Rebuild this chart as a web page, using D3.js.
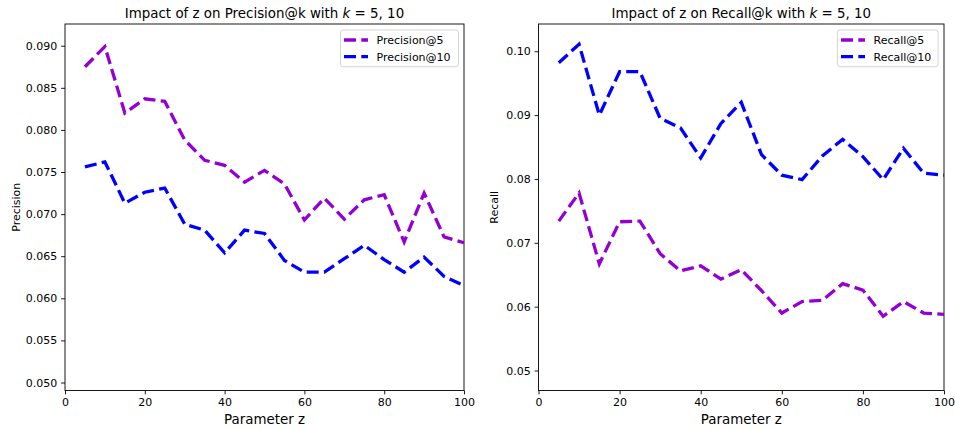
<!DOCTYPE html>
<html>
<head>
<meta charset="utf-8">
<title>Impact of z</title>
<script src="https://d3js.org/d3.v7.min.js"></script>
<style>
  body { margin: 0; background: #fff; }
  text { font-family: "DejaVu Sans", sans-serif; fill: #000; }
  .tick text { font-size: 11px; fill: #000; }
  .domain, .tick line { stroke: #000; stroke-width: 0.9px; }
</style>
</head>
<body>
<div id="chart"></div>
<script>
// parameter z
const zValues = [5, 10, 15, 20, 25, 30, 35, 40, 45, 50, 55, 60, 65, 70, 75, 80, 85, 90, 95, 100];

const precision5 = [0.0875, 0.0899, 0.0820, 0.0837, 0.0834, 0.0788, 0.0764, 0.0758, 0.0738, 0.0752,
                    0.0736, 0.0693, 0.0719, 0.0694, 0.0717, 0.0723, 0.0667, 0.0725, 0.0673, 0.0666];
const precision10 = [0.0756, 0.0762, 0.0713, 0.0726, 0.0731, 0.0688, 0.0681, 0.0654, 0.0681, 0.0677,
                     0.0645, 0.0631, 0.0631, 0.0647, 0.0663, 0.0646, 0.0631, 0.0649, 0.0626, 0.0615];
const recall5 = [0.0734, 0.0778, 0.0667, 0.0733, 0.0734, 0.0683, 0.0656, 0.0664, 0.0643, 0.0658,
                 0.0625, 0.0590, 0.0608, 0.0610, 0.0636, 0.0626, 0.0585, 0.0608, 0.0590, 0.0588];
const recall10 = [0.0982, 0.1011, 0.0900, 0.0968, 0.0968, 0.0895, 0.0880, 0.0833, 0.0887, 0.0920,
                  0.0838, 0.0806, 0.0799, 0.0836, 0.0862, 0.0835, 0.0799, 0.0848, 0.0809, 0.0806];

const xTicks = [0, 20, 40, 60, 80, 100];
const precisionTicks = [0.050, 0.055, 0.060, 0.065, 0.070, 0.075, 0.080, 0.085, 0.090];
const recallTicks = [0.05, 0.06, 0.07, 0.08, 0.09, 0.10];

const width = 955, height = 430;
const plotTop = 24, plotBottom = 390.5;
const dash = "12,5.3";

const svg = d3.select("#chart").append("svg")
    .attr("width", width)
    .attr("height", height);

// one panel
function drawPanel(opts) {
    const x = d3.scaleLinear().domain([0, 100]).range([opts.left, opts.right]);
    const y = d3.scaleLinear().domain(opts.yDomain).range([plotBottom, plotTop]);
    const g = svg.append("g");

    g.append("g")
        .attr("transform", "translate(0," + plotBottom + ")")
        .call(d3.axisBottom(x).tickValues(xTicks).tickSize(3.9).tickSizeOuter(0).tickPadding(3.9))
        .call(a => a.select(".domain").remove());

    g.append("g")
        .attr("transform", "translate(" + opts.left + ",0)")
        .call(d3.axisLeft(y).tickValues(opts.yTicks).tickFormat(d3.format(opts.fmt))
            .tickSize(3.9).tickSizeOuter(0).tickPadding(3.9))
        .call(a => a.select(".domain").remove());

    // frame
    g.append("rect")
        .attr("x", opts.left).attr("y", plotTop)
        .attr("width", opts.right - opts.left).attr("height", plotBottom - plotTop)
        .attr("fill", "none").attr("stroke", "#000").attr("stroke-width", 0.9);

    const line = d3.line()
        .x((d, i) => x(zValues[i]))
        .y(d => y(d));

    opts.series.forEach(s => {
        g.append("path")
            .datum(s.values)
            .attr("d", line)
            .attr("fill", "none")
            .attr("stroke", s.color)
            .attr("stroke-width", 3.3)
            .attr("stroke-dasharray", dash);
    });

    // titles
    const title = g.append("text")
        .attr("x", (opts.left + opts.right) / 2)
        .attr("y", 17.5)
        .attr("text-anchor", "middle")
        .style("font-size", "13.4px");
    title.append("tspan").text(opts.title + " with ");
    title.append("tspan").style("font-style", "italic").text("k");
    title.append("tspan").text(" = 5, 10");

    g.append("text")
        .attr("x", (opts.left + opts.right) / 2)
        .attr("y", 424)
        .attr("text-anchor", "middle")
        .style("font-size", "13.4px")
        .text("Parameter z");

    g.append("text")
        .attr("transform", "translate(" + opts.ylabelX + "," + (plotTop + plotBottom) / 2 + ") rotate(-90)")
        .attr("text-anchor", "middle")
        .style("font-size", "11px")
        .text(opts.ylabel);

    // legend
    const lg = g.append("g").attr("transform", "translate(" + opts.legendX + ",30)");
    lg.append("rect")
        .attr("width", opts.legendW).attr("height", 36.7)
        .attr("rx", 2.5)
        .attr("fill", "#fff").attr("fill-opacity", 0.8)
        .attr("stroke", "#d0d0d0").attr("stroke-width", 0.9);
    opts.series.forEach((s, i) => {
        const yy = 10 + i * 16.7;
        lg.append("line")
            .attr("x1", 3.5).attr("x2", 27.5)
            .attr("y1", yy).attr("y2", yy)
            .attr("stroke", s.color).attr("stroke-width", 3.3)
            .attr("stroke-dasharray", dash);
        lg.append("text")
            .attr("x", 36).attr("y", yy + 4)
            .style("font-size", "11px")
            .text(s.name);
    });
}

drawPanel({
    left: 65, right: 464,
    yDomain: [0.04905, 0.09258],
    yTicks: precisionTicks, fmt: ".3f",
    title: "Impact of z on Precision@k",
    ylabel: "Precision", ylabelX: 20,
    legendX: 340.5, legendW: 118,
    series: [
        { name: "Precision@5", values: precision5, color: "#9400D3" },
        { name: "Precision@10", values: precision10, color: "#0000FF" }
    ]
});

drawPanel({
    left: 538.5, right: 944,
    yDomain: [0.04687, 0.10427],
    yTicks: recallTicks, fmt: ".2f",
    title: "Impact of z on Recall@k",
    ylabel: "Recall", ylabelX: 498,
    legendX: 837.5, legendW: 100.5,
    series: [
        { name: "Recall@5", values: recall5, color: "#9400D3" },
        { name: "Recall@10", values: recall10, color: "#0000FF" }
    ]
});
</script>
</body>
</html>
